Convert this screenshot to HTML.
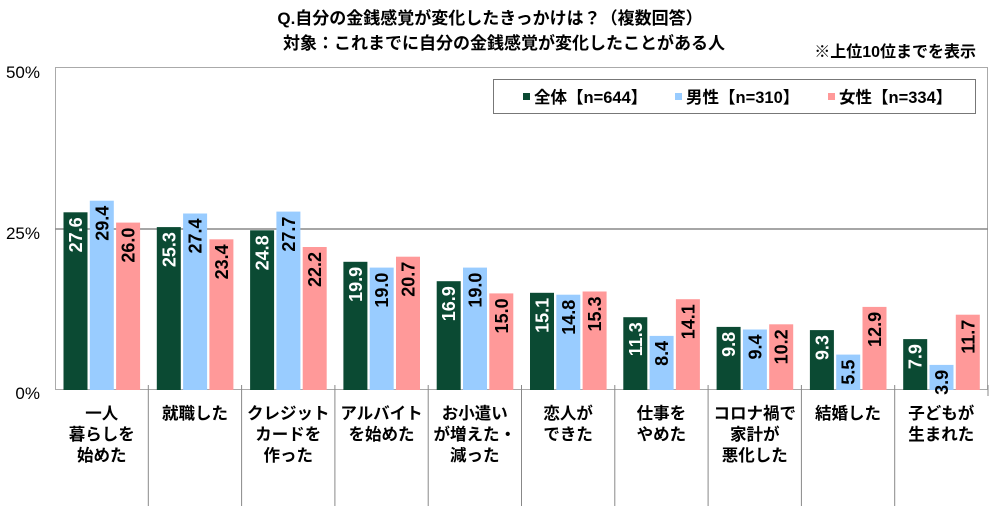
<!DOCTYPE html>
<html><head><meta charset="utf-8"><style>
body{margin:0;background:#fff;}
svg{display:block;font-family:"Liberation Sans","Noto Sans CJK JP",sans-serif;font-weight:bold;}
</style></head><body>
<svg width="1000" height="506" viewBox="0 0 1000 506" xmlns="http://www.w3.org/2000/svg">
<text x="490" y="24" font-size="17" text-anchor="middle">Q.自分の金銭感覚が変化したきっかけは？（複数回答）</text>
<text x="283" y="49" font-size="17">対象：これまでに自分の金銭感覚が変化したことがある人</text>
<text x="976" y="57" font-size="16" text-anchor="end">※上位10位までを表示</text>
<rect x="55.5" y="67.5" width="932" height="322" fill="none" stroke="#aaa" stroke-width="1"/>
<line x1="55" y1="229" x2="988" y2="229" stroke="#888" stroke-width="1.5"/>
<text x="40" y="78" font-size="17" text-anchor="end" font-weight="normal">50%</text>
<text x="40" y="239" font-size="17" text-anchor="end" font-weight="normal">25%</text>
<text x="40" y="399" font-size="17" text-anchor="end" font-weight="normal">0%</text>
<rect x="493.5" y="79.5" width="482" height="34" fill="#fff" stroke="#777"/>
<rect x="523" y="93" width="7" height="7" fill="#0b4a33"/>
<text x="534" y="103" font-size="16.5">全体【n=644】</text>
<rect x="675" y="93" width="7" height="7" fill="#99ccff"/>
<text x="686" y="103" font-size="16.5">男性【n=310】</text>
<rect x="828" y="93" width="7" height="7" fill="#ff9999"/>
<text x="839" y="103" font-size="16.5">女性【n=334】</text>
<g id="bars"></g>
<g id="cats" font-size="16.5" text-anchor="middle"></g>
</svg>
<script>
var d=[[27.6,29.4,26.0],[25.3,27.4,23.4],[24.8,27.7,22.2],[19.9,19.0,20.7],[16.9,19.0,15.0],[15.1,14.8,15.3],[11.3,8.4,14.1],[9.8,9.4,10.2],[9.3,5.5,12.9],[7.9,3.9,11.7]];
var c=[["一人","暮らしを","始めた"],["就職した"],["クレジット","カードを","作った"],["アルバイト","を始めた"],["お小遣い","が増えた・","減った"],["恋人が","できた"],["仕事を","やめた"],["コロナ禍で","家計が","悪化した"],["結婚した"],["子どもが","生まれた"]];
var col=["#0b4a33","#99ccff","#ff9999"],tc=["#fff","#000","#000"];
var s="",t="",w=93.3;
for(var i=0;i<10;i++){var gx=55+i*w;
 for(var j=0;j<3;j++){var v=d[i][j],h=v*6.44,x=gx+8.5+j*26.3,y=390-h;
  s+='<rect x="'+x.toFixed(1)+'" y="'+y.toFixed(1)+'" width="24" height="'+h.toFixed(1)+'" fill="'+col[j]+'"/>';
  var cx=x+12+6.5,cy=y+5;
  s+='<text transform="translate('+cx.toFixed(1)+','+cy.toFixed(1)+') rotate(-90)" text-anchor="end" font-size="18" fill="'+tc[j]+'">'+v.toFixed(1)+'</text>';}
 if(i>0)s+='<line x1="'+gx.toFixed(1)+'" y1="385" x2="'+gx.toFixed(1)+'" y2="506" stroke="#888"/>';
 for(var k=0;k<c[i].length;k++)t+='<text x="'+(gx+w/2).toFixed(1)+'" y="'+(419+k*21)+'">'+c[i][k]+'</text>';}
s+='<line x1="988" y1="385" x2="988" y2="396" stroke="#888"/>';
document.getElementById("bars").innerHTML=s;document.getElementById("cats").innerHTML=t;
</script>
</body></html>
